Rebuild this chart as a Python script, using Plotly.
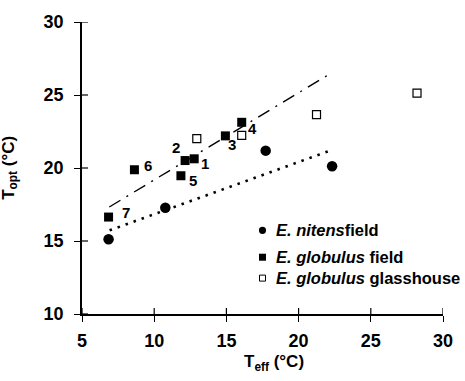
import plotly.graph_objects as go

# Data
nitens_x = [6.84, 10.77, 17.72, 22.32]
nitens_y = [15.12, 17.28, 21.19, 20.12]

glob_field_x = [12.77, 12.14, 14.93, 16.06, 11.85, 8.63, 6.84]
glob_field_y = [20.63, 20.51, 22.20, 23.13, 19.47, 19.88, 16.64]
glob_field_labels = ["1", "2", "3", "4", "5", "6", "7"]
label_shift_x = [11, -9, 7, 11, 12, 14, 17]
label_shift_y = [-5, 13, -9, -6, -5, 4, 5]

glass_x = [12.95, 16.06, 21.24, 28.20]
glass_y = [22.01, 22.24, 23.65, 25.13]

fit_field_x = [6.89, 22.32]
fit_field_y = [17.33, 26.54]
fit_nitens_x = [6.91, 22.32]
fit_nitens_y = [15.73, 21.24]

x_ticks = [5, 10, 15, 20, 25, 30]
y_ticks = [10, 15, 20, 25, 30]

legend_labels = ["<i>E. nitens</i>field", "<i>E. globulus</i> field",
                 "<i>E. globulus</i> glasshouse"]

FONT = "Liberation Sans, Arial, sans-serif"

fig = go.Figure()

fig.add_trace(go.Scatter(x=fit_field_x, y=fit_field_y, mode="lines",
                         line=dict(color="black", width=1.4, dash="13px,7px,2px,7px"),
                         showlegend=False, hoverinfo="skip"))
fig.add_trace(go.Scatter(x=fit_nitens_x, y=fit_nitens_y, mode="lines",
                         line=dict(color="black", width=2.6, dash="2.5px,6px"),
                         showlegend=False, hoverinfo="skip"))

fig.add_trace(go.Scatter(x=nitens_x, y=nitens_y, mode="markers",
                         marker=dict(symbol="circle", size=10.5, color="black"),
                         showlegend=False))
fig.add_trace(go.Scatter(x=glob_field_x, y=glob_field_y, mode="markers",
                         marker=dict(symbol="square", size=9, color="black"),
                         showlegend=False))
fig.add_trace(go.Scatter(x=glass_x, y=glass_y, mode="markers",
                         marker=dict(symbol="square-open", size=8, color="black",
                                     line=dict(width=1.2)),
                         showlegend=False))

for x, y, t, sx, sy in zip(glob_field_x, glob_field_y, glob_field_labels,
                           label_shift_x, label_shift_y):
    fig.add_annotation(x=x, y=y, text="<b>%s</b>" % t, showarrow=False,
                       xshift=sx, yshift=sy,
                       font=dict(family=FONT, size=15, color="black"))

# axis titles
fig.add_annotation(xref="paper", yref="paper", x=0.532, y=-0.168,
                   xanchor="center", yanchor="middle", showarrow=False,
                   text="<b>T<sub>eff</sub> (°C)</b>",
                   font=dict(family=FONT, size=17, color="black"))
fig.add_annotation(xref="paper", yref="paper", x=-0.2, y=0.5,
                   xanchor="center", yanchor="middle", showarrow=False,
                   textangle=-90,
                   text="<b>T<sub>opt</sub> (°C)</b>",
                   font=dict(family=FONT, size=17, color="black"))

# manual legend
leg_y = [0.2867, 0.1945, 0.1229]
for yy, lab in zip(leg_y, legend_labels):
    fig.add_annotation(xref="paper", yref="paper", x=0.532, y=yy,
                       xanchor="left", yanchor="middle", showarrow=False,
                       text="<b>%s</b>" % lab,
                       font=dict(family=FONT, size=16.5, color="black"))
shapes = [
    dict(type="circle", xref="paper", yref="paper", xsizemode="pixel",
         ysizemode="pixel", xanchor=0.5, yanchor=leg_y[0],
         x0=-3.6, x1=3.6, y0=-3.6, y1=3.6, fillcolor="black", line=dict(width=0)),
    dict(type="rect", xref="paper", yref="paper", xsizemode="pixel",
         ysizemode="pixel", xanchor=0.5, yanchor=leg_y[1],
         x0=-3.5, x1=3.5, y0=-3.5, y1=3.5, fillcolor="black", line=dict(width=0)),
    dict(type="rect", xref="paper", yref="paper", xsizemode="pixel",
         ysizemode="pixel", xanchor=0.5, yanchor=leg_y[2],
         x0=-3, x1=3, y0=-3, y1=3, fillcolor="white",
         line=dict(width=1, color="black")),
]
# inner halves of crossing tick marks
for t in x_ticks:
    shapes.append(dict(type="line", xref="x", yref="paper", ysizemode="pixel",
                       yanchor=0, x0=t, x1=t, y0=0, y1=6,
                       line=dict(color="black", width=1.2)))
for t in y_ticks:
    shapes.append(dict(type="line", xref="paper", yref="y", xsizemode="pixel",
                       xanchor=0, x0=0, x1=6, y0=t, y1=t,
                       line=dict(color="black", width=1.2)))

axis_common = dict(showgrid=False, zeroline=False, showline=True,
                   linecolor="black", linewidth=1.5, tickcolor="black",
                   tickwidth=1.2, ticklen=6, ticks="outside",
                   tickfont=dict(family=FONT, size=18, color="black",
                                 weight="bold"))

fig.update_layout(
    width=465, height=381,
    margin=dict(l=82, r=13, t=21, b=67),
    paper_bgcolor="white", plot_bgcolor="white",
    font=dict(family=FONT, color="black"),
    xaxis=dict(range=[5, 30], tickvals=x_ticks, ticklabelstandoff=4,
               **axis_common),
    yaxis=dict(range=[10, 30], tickvals=y_ticks, ticklabelstandoff=7,
               **axis_common),
    shapes=shapes,
    showlegend=False,
)

fig.write_html("out.html")
